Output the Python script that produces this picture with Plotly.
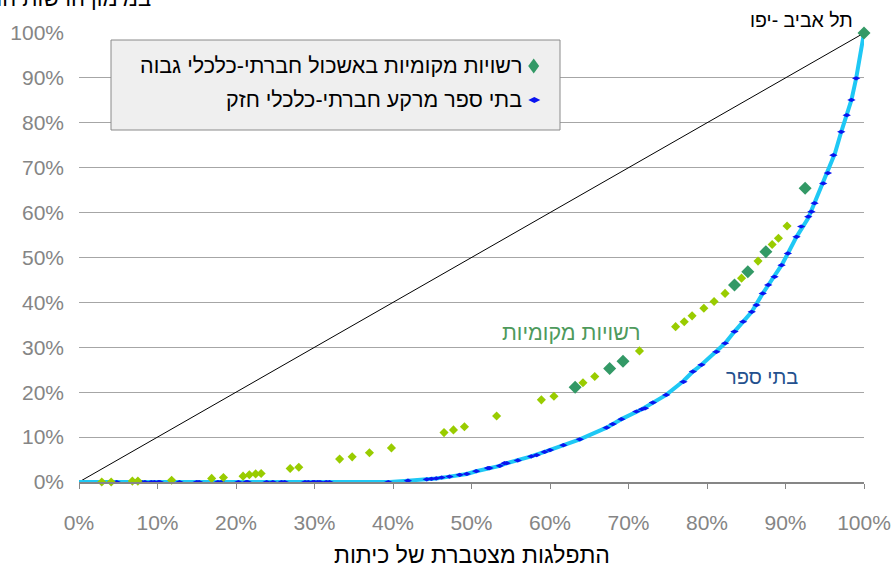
import plotly.graph_objects as go

# ---------------- data (fractions) ----------------
diag_x = [0.0, 1.0]
diag_y = [0.0, 1.0]

# cumulative curve of all schools (light blue)
schools_x = [0.0, 0.396, 0.419, 0.443, 0.455, 0.472, 0.485, 0.494, 0.506, 0.523, 0.536, 0.545,
             0.559, 0.576, 0.593, 0.600, 0.617, 0.638, 0.672, 0.691, 0.717, 0.731, 0.748,
             0.770, 0.782, 0.793, 0.812, 0.823, 0.835, 0.846, 0.857, 0.871, 0.886, 0.895,
             0.903, 0.914, 0.929, 0.937, 0.950, 0.963, 0.971, 0.978, 0.984, 0.990, 0.998, 1.0]
schools_y = [0.0, 0.0, 0.003, 0.006, 0.008, 0.012, 0.016, 0.018, 0.024, 0.031, 0.036, 0.042,
             0.048, 0.057, 0.067, 0.071, 0.082, 0.095, 0.121, 0.140, 0.162, 0.177, 0.194,
             0.225, 0.246, 0.261, 0.290, 0.309, 0.335, 0.357, 0.379, 0.420, 0.457, 0.483,
             0.509, 0.546, 0.588, 0.621, 0.673, 0.732, 0.780, 0.817, 0.851, 0.899, 0.973, 1.0]

# schools from a strong socio-economic background (dark blue)
strong_x = [0.048, 0.080, 0.084, 0.092, 0.096, 0.101, 0.103, 0.128, 0.150, 0.153, 0.177, 0.181,
            0.203, 0.213, 0.215, 0.239, 0.247, 0.258, 0.262, 0.288, 0.292, 0.298, 0.300, 0.304,
            0.307, 0.315, 0.319, 0.394,
            0.419, 0.443, 0.449, 0.455, 0.462, 0.472, 0.485, 0.494, 0.506, 0.521, 0.523, 0.536,
            0.542, 0.545, 0.559, 0.576, 0.583, 0.593, 0.600, 0.617, 0.638, 0.672, 0.680, 0.691,
            0.710, 0.717, 0.721, 0.731, 0.748, 0.770, 0.782, 0.793, 0.812, 0.823, 0.835, 0.846,
            0.857, 0.863, 0.871, 0.878, 0.886, 0.895, 0.903, 0.914, 0.920, 0.929, 0.933, 0.937,
            0.948, 0.954, 0.961, 0.971, 0.978, 0.984, 0.990]
strong_y = [0.0, 0.0, 0.0, 0.0, 0.0, 0.0, 0.0, 0.0, 0.0, 0.0, 0.0, 0.0,
            0.0, 0.0, 0.0, 0.0, 0.0, 0.0, 0.0, 0.0, 0.0, 0.0, 0.0, 0.0,
            0.0, 0.0, 0.0, 0.0,
            0.003, 0.006, 0.007, 0.008, 0.010, 0.012, 0.016, 0.018, 0.024, 0.031, 0.031, 0.036,
            0.042, 0.042, 0.048, 0.057, 0.060, 0.067, 0.071, 0.082, 0.095, 0.121, 0.129, 0.140,
            0.157, 0.162, 0.164, 0.177, 0.194, 0.223, 0.246, 0.261, 0.290, 0.309, 0.335, 0.357,
            0.379, 0.394, 0.420, 0.439, 0.457, 0.483, 0.509, 0.546, 0.569, 0.591, 0.602, 0.621,
            0.665, 0.688, 0.728, 0.780, 0.817, 0.851, 0.899]

# local authorities (yellow-green)
auth_x = [-0.007, 0.002, 0.029, 0.041, 0.068, 0.075, 0.118, 0.169, 0.184, 0.209, 0.217, 0.225,
          0.232, 0.269, 0.280, 0.332, 0.348, 0.370, 0.398, 0.465, 0.477, 0.491, 0.532, 0.589,
          0.605, 0.642, 0.657, 0.714, 0.760, 0.771, 0.781, 0.796, 0.809, 0.823, 0.844, 0.865,
          0.883, 0.891, 0.902]
auth_y = [-0.003, -0.003, 0.0, 0.0, 0.002, 0.002, 0.004, 0.008, 0.010, 0.013, 0.016, 0.018,
          0.019, 0.030, 0.033, 0.051, 0.056, 0.065, 0.076, 0.110, 0.116, 0.123, 0.147, 0.183,
          0.191, 0.221, 0.235, 0.292, 0.346, 0.357, 0.370, 0.387, 0.402, 0.420, 0.454, 0.492,
          0.529, 0.543, 0.570]

# local authorities in a high socio-economic cluster (dark green)
high_x = [0.632, 0.676, 0.693, 0.835, 0.852, 0.875, 0.925, 1.0]
high_y = [0.211, 0.253, 0.269, 0.439, 0.468, 0.513, 0.654, 1.0]

tick_vals = [0.0, 0.1, 0.2, 0.3, 0.4, 0.5, 0.6, 0.7, 0.8, 0.9, 1.0]
tick_text = ["0%", "10%", "20%", "30%", "40%", "50%", "60%", "70%", "80%", "90%", "100%"]

legend_labels = ["רשויות מקומיות באשכול חברתי-כלכלי גבוה", "בתי ספר מרקע חברתי-כלכלי חזק"]
x_title = "התפלגות מצטברת של כיתות"
y_title = "במימון הרשות המקומית"
label_tlv = "תל אביב -יפו"
label_auth = "רשויות מקומיות"
label_schools = "בתי ספר"

# ---------------- layout geometry ----------------
W, H = 895, 568
ML, MR, MT, MB = 79, 31, 33, 86
PW, PH = W - ML - MR, H - MT - MB


def dx(px):
    return (px - ML) / PW


def dy(py):
    return (H - MB - py) / PH


FONT = "Liberation Sans, Arial, sans-serif"

fig = go.Figure()

fig.add_trace(go.Scatter(x=diag_x, y=diag_y, mode="lines",
                         line=dict(color="black", width=1), hoverinfo="skip"))
fig.add_trace(go.Scatter(x=schools_x, y=schools_y, mode="lines",
                         line=dict(color="#1ec8f5", width=4), cliponaxis=False))
fig.add_trace(go.Scatter(x=strong_x, y=strong_y, mode="markers",
                         marker=dict(symbol="diamond-wide", size=6, color="#0a14f0"),
                         cliponaxis=False))
fig.add_trace(go.Scatter(x=auth_x, y=auth_y, mode="markers",
                         marker=dict(symbol="diamond", size=7, color="#99cc00"),
                         cliponaxis=False))
fig.add_trace(go.Scatter(x=high_x, y=high_y, mode="markers",
                         marker=dict(symbol="diamond", size=10, color="#339966"),
                         cliponaxis=False))

shapes = []
# legend box
shapes.append(dict(type="rect", xref="paper", yref="paper", x0=dx(111), x1=dx(560),
                   y0=dy(130), y1=dy(40),
                   fillcolor="#efefef", line=dict(color="#8a8a8a", width=1), layer="above"))


def diamond(cx, cy, w, h, color):
    p = (f"M {dx(cx)} {dy(cy - h / 2)} L {dx(cx + w / 2)} {dy(cy)} "
         f"L {dx(cx)} {dy(cy + h / 2)} L {dx(cx - w / 2)} {dy(cy)} Z")
    return dict(type="path", xref="paper", yref="paper", path=p, fillcolor=color,
                line=dict(width=0), layer="above")


shapes.append(diamond(533.7, 66, 11, 15, "#339966"))
shapes.append(diamond(534.3, 100, 12, 6, "#0a14f0"))


def note(px, py, text, size, color, xanchor="right"):
    return dict(x=dx(px), y=dy(py), xref="paper", yref="paper", text=text,
                xanchor=xanchor, yanchor="middle", showarrow=False,
                font=dict(family=FONT, size=size, color=color))


annotations = [
    note(524, 66, legend_labels[0], 21.5, "black"),
    note(524, 100, legend_labels[1], 21.5, "black"),
    note(855, 20, label_tlv, 19.5, "black"),
    note(642, 333, label_auth, 21.5, "#4e9a5c"),
    note(800, 377, label_schools, 20, "#23508e"),
    note(153, -2, y_title, 22, "black"),
    note(472, 555, x_title, 23, "black", xanchor="center"),
]

fig.update_layout(
    width=W, height=H, autosize=False,
    margin=dict(l=ML, r=MR, t=MT, b=MB),
    paper_bgcolor="white", plot_bgcolor="white",
    showlegend=False,
    font=dict(family=FONT, size=21, color="#858585"),
    shapes=shapes, annotations=annotations,
    xaxis=dict(range=[0, 1], tickvals=tick_vals, ticktext=tick_text, automargin=False,
               showgrid=False, zeroline=False, showline=True, linecolor="#868686", linewidth=2,
               ticks="outside", ticklen=5, tickcolor="#868686", tickwidth=1,
               ticklabelstandoff=16, tickfont=dict(size=21, color="#858585")),
    yaxis=dict(range=[0, 1], tickvals=tick_vals, ticktext=tick_text, automargin=False,
               showgrid=True, gridcolor="#a6a6a6", gridwidth=1.3, zeroline=False,
               showline=False, ticks="", ticklabelstandoff=14,
               tickfont=dict(size=21, color="#858585")),
)

fig.write_html("out.html", config={"displayModeBar": False},
               post_script="document.body.style.margin='0';document.body.style.overflow='hidden';")
